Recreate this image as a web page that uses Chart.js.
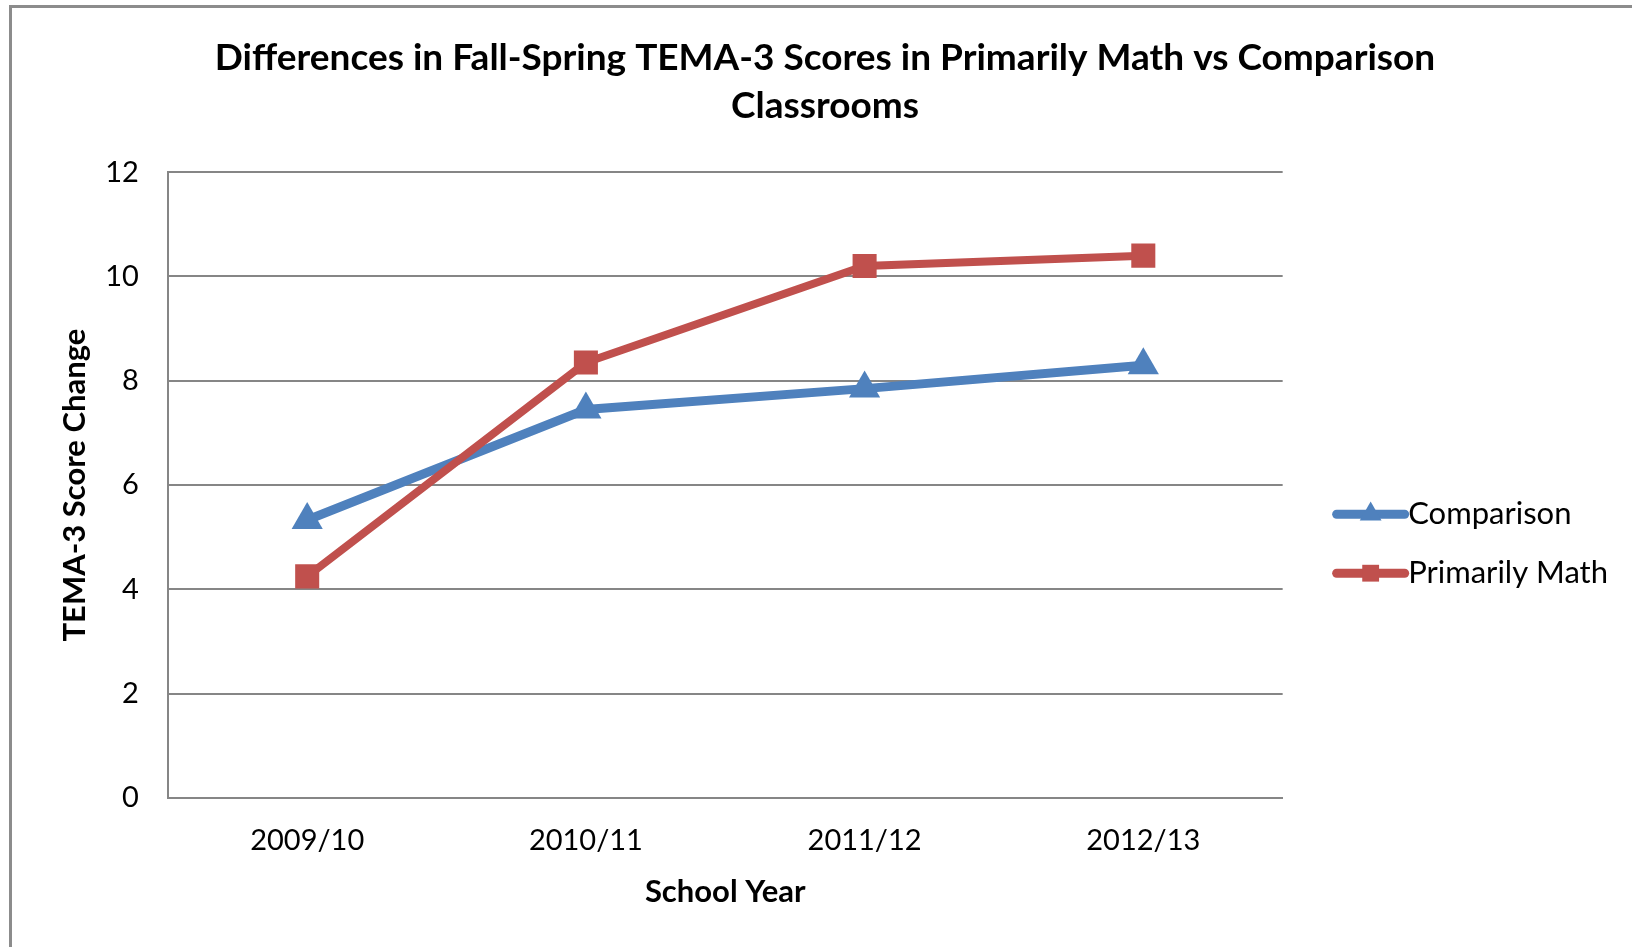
<!DOCTYPE html>
<html>
<head>
<meta charset="utf-8">
<script src="https://cdn.jsdelivr.net/npm/chart.js@4/dist/chart.umd.min.js"></script>
<style>
  html, body { margin: 0; padding: 0; background: #fff; }
  #frame {
    position: absolute; left: 9px; top: 5px; width: 1700px; height: 1000px;
    border-left: 3px solid #8c8c8c; border-top: 3px solid #8c8c8c;
  }
  #wrap { position: absolute; left: 0; top: 0; width: 1632px; height: 947px; }
</style>
</head>
<body>
<div id="frame"></div>
<div id="wrap"><canvas id="chart"></canvas></div>
<script>
const categories = ["2009/10", "2010/11", "2011/12", "2012/13"];
const comparison = [5.33, 7.45, 7.85, 8.3];
const primarilyMath = [4.25, 8.35, 10.2, 10.4];
const yTicks = [0, 2, 4, 6, 8, 10, 12];

const BLUE = "#4F81BD";
const RED = "#C0504D";
const GRID = "#868686";

Chart.defaults.font.family = "Lato, 'Open Sans', sans-serif";
Chart.defaults.color = "#000";

// draws the legend samples as a thick line with the series marker
const legendSamples = {
  id: "legendSamples",
  afterDraw(chart) {
    const legend = chart.legend;
    if (!legend || !legend.legendHitBoxes) return;
    const ctx = chart.ctx;
    legend.legendItems.forEach((item, i) => {
      const box = legend.legendHitBoxes[i];
      const ds = chart.data.datasets[item.datasetIndex];
      const x0 = box.left + 26;
      const x1 = x0 + 68;
      const y = box.top + box.height / 2;
      ctx.save();
      ctx.strokeStyle = ds.borderColor;
      ctx.lineWidth = 9;
      ctx.lineCap = "round";
      ctx.beginPath();
      ctx.moveTo(x0, y);
      ctx.lineTo(x1, y);
      ctx.stroke();
      ctx.fillStyle = ds.borderColor;
      Chart.helpers.drawPoint(ctx, {
        pointStyle: ds.pointStyle,
        radius: ds.pointRadius * 0.7,
        rotation: 0
      }, (x0 + x1) / 2, y);
      ctx.restore();
    });
  }
};

const ctx = document.getElementById("chart").getContext("2d");
new Chart(ctx, {
  type: "line",
  data: {
    labels: categories,
    datasets: [
      {
        label: "Comparison",
        data: comparison,
        borderColor: BLUE,
        backgroundColor: BLUE,
        borderWidth: 9,
        pointStyle: "triangle",
        pointRadius: 18,
        pointBorderWidth: 0,
        order: 1
      },
      {
        label: "Primarily Math",
        data: primarilyMath,
        borderColor: RED,
        backgroundColor: RED,
        borderWidth: 8,
        pointStyle: "rect",
        pointRadius: 17,
        pointBorderWidth: 0,
        order: 0
      }
    ]
  },
  options: {
    responsive: true,
    maintainAspectRatio: false,
    animation: false,
    layout: { padding: { left: 32, right: 14, top: 10, bottom: 22 } },
    plugins: {
      title: {
        display: true,
        text: ["Differences in Fall-Spring TEMA-3 Scores in Primarily Math vs Comparison", "Classrooms"],
        font: { size: 37, weight: "bold", lineHeight: 1.3 },
        padding: { top: 24, bottom: 42 }
      },
      legend: {
        position: "right",
        title: { display: true, text: " ", padding: { top: 69, bottom: 69 } },
        labels: {
          font: { size: 31 },
          boxWidth: 82,
          padding: 28,
          sort: (a, b) => a.datasetIndex - b.datasetIndex,
          generateLabels(chart) {
            const items = Chart.defaults.plugins.legend.labels.generateLabels(chart);
            items.forEach(it => {
              it.fillStyle = "rgba(0,0,0,0)";
              it.strokeStyle = "rgba(0,0,0,0)";
              it.lineWidth = 0;
            });
            return items;
          }
        }
      },
      tooltip: { enabled: false }
    },
    scales: {
      x: {
        offset: true,
        grid: { display: false, drawTicks: false },
        border: { display: true, color: GRID, width: 2 },
        ticks: { font: { size: 29 }, padding: 25 },
        title: {
          display: true,
          text: "School Year",
          font: { size: 31, weight: "bold" },
          padding: { top: -9, bottom: 14 }
        }
      },
      y: {
        min: 0,
        max: 12,
        afterBuildTicks(scale) {
          scale.ticks = yTicks.map(v => ({ value: v }));
        },
        grid: { color: GRID, lineWidth: 2, drawTicks: false },
        border: { display: true, color: GRID, width: 2 },
        ticks: { font: { size: 29 }, padding: 29 },
        title: {
          display: true,
          text: "TEMA-3 Score Change",
          font: { size: 31, weight: "bold" },
          padding: { top: 24, bottom: -17 }
        }
      }
    }
  },
  plugins: [legendSamples]
});
</script>
</body>
</html>
